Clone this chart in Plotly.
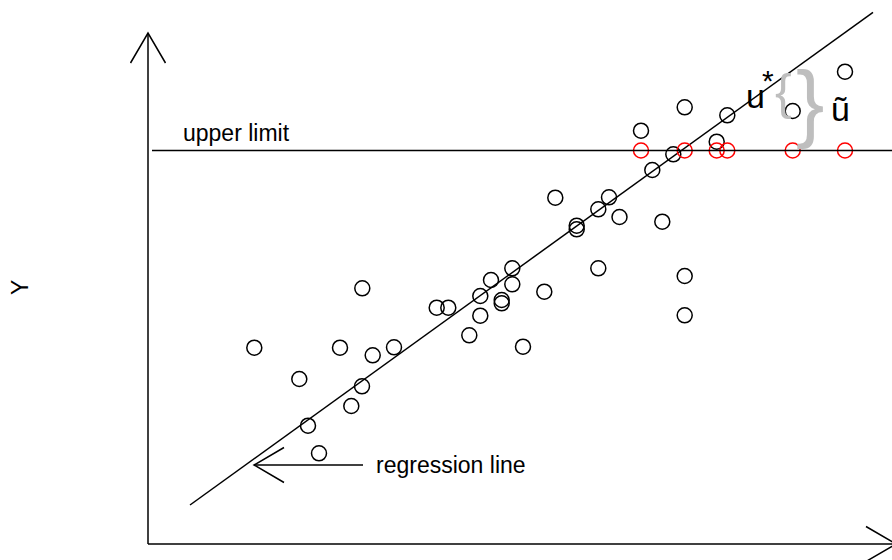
import plotly.graph_objects as go

# Observations (x, y) in plot units
x_obs = [10.63, 15.13, 16.0, 17.1, 19.2, 20.33, 21.4, 21.43, 22.47, 24.6,
         28.87, 30.03, 32.13, 33.23, 33.23, 34.3, 35.37, 35.37, 36.43, 36.43,
         37.5, 39.63, 40.73, 42.87, 42.87, 45.03, 45.03, 46.1, 47.15, 49.3,
         50.43, 51.43, 52.53, 53.67, 53.67, 53.67, 56.87, 57.93, 64.47, 69.7]
y_obs = [19.63, 16.5, 11.83, 9.07, 19.63, 13.8, 15.77, 25.57, 18.87, 19.67,
         23.63, 23.63, 20.87, 22.83, 24.8, 26.4, 24.4, 24.07, 27.57, 25.97,
         19.73, 25.23, 34.63, 31.83, 31.47, 33.47, 27.57, 34.67, 32.7, 41.33,
         37.4, 32.23, 38.97, 43.67, 26.8, 22.87, 40.23, 42.87, 43.3, 47.23]

upper_limit = 39.35

# Regression line coefficients and drawn extent
reg_intercept = 0.87
reg_slope = 0.7214
reg_x = [4.2, 72.5]

# Censored values: observations above the limit are recorded at the limit
cens_x = [x for x, y in zip(x_obs, y_obs) if y > upper_limit]
cens_y = [upper_limit for _ in cens_x]

FONT = "Liberation Sans, Arial, sans-serif"
BLACK = "#000000"

fig = go.Figure()

fig.add_trace(go.Scatter(
    x=reg_x, y=[reg_intercept + reg_slope * v for v in reg_x],
    mode="lines", line=dict(color=BLACK, width=1.5), hoverinfo="skip",
))
fig.add_trace(go.Scatter(
    x=x_obs, y=y_obs, mode="markers",
    marker=dict(symbol="circle-open", size=15, color=BLACK, line=dict(width=1.5)),
))
fig.add_trace(go.Scatter(
    x=cens_x, y=cens_y, mode="markers",
    marker=dict(symbol="circle-open", size=15, color="#FF0000", line=dict(width=1.5)),
))

line_style = dict(color=BLACK, width=1.5)
shapes = [
    # vertical axis with open arrowhead
    dict(type="line", x0=0, y0=0, x1=0, y1=51.1, line=line_style),
    dict(type="path", path="M -1.75,48.1 L 0,51.1 L 1.75,48.1", line=line_style),
    # horizontal axis with open arrowhead
    dict(type="line", x0=0, y0=0, x1=74.8, y1=0, line=line_style),
    dict(type="path", path="M 71.8,1.75 L 74.8,0 L 71.8,-1.75", line=line_style),
    # upper limit
    dict(type="line", x0=0.4, y0=upper_limit, x1=76, y1=upper_limit, line=line_style),
    # pointer to the regression line
    dict(type="line", x0=21.5, y0=7.9, x1=10.6, y1=7.9, line=line_style),
    dict(type="path", path="M 13.6,9.65 L 10.6,7.9 L 13.6,6.15", line=line_style),
]

annotations = [
    dict(x=3.3, y=41.1, text="upper limit", xanchor="left", yanchor="middle",
         font=dict(size=23, color=BLACK, family=FONT)),
    dict(x=22.6, y=7.9, text="regression line", xanchor="left", yanchor="middle",
         font=dict(size=23, color=BLACK, family=FONT)),
    dict(x=-12.8, y=25.6, text="Y", textangle=-90, xanchor="center", yanchor="middle",
         font=dict(size=23, color=BLACK, family=FONT)),
    # u* : the residual measured against the regression line
    dict(x=60.7, y=44.8, text="u", xanchor="center", yanchor="middle",
         font=dict(size=34, color=BLACK, family=FONT)),
    dict(x=62.0, y=46.4, text="*", xanchor="center", yanchor="middle",
         font=dict(size=30, color=BLACK, family=FONT)),
    dict(x=69.2, y=43.5, text="ũ", xanchor="center", yanchor="middle",
         font=dict(size=34, color=BLACK, family=FONT)),
    dict(x=63.5, y=45.2, text="{", xanchor="center", yanchor="middle",
         font=dict(size=50, color="#BEBEBE", family=FONT)),
    dict(x=66.2, y=44.3, text="}", xanchor="center", yanchor="middle",
         font=dict(size=85, color="#BEBEBE", family=FONT)),
]

for a in annotations:
    a["showarrow"] = False
    a["xref"] = "x"
    a["yref"] = "y"

fig.update_layout(
    width=892, height=560,
    margin=dict(l=0, r=0, t=0, b=0),
    paper_bgcolor="white", plot_bgcolor="white",
    showlegend=False,
    shapes=shapes,
    annotations=annotations,
    xaxis=dict(range=[-14.8, 74.4], visible=False, fixedrange=True),
    yaxis=dict(range=[-1.6, 54.4], visible=False, fixedrange=True),
)

fig.write_html("out.html")
